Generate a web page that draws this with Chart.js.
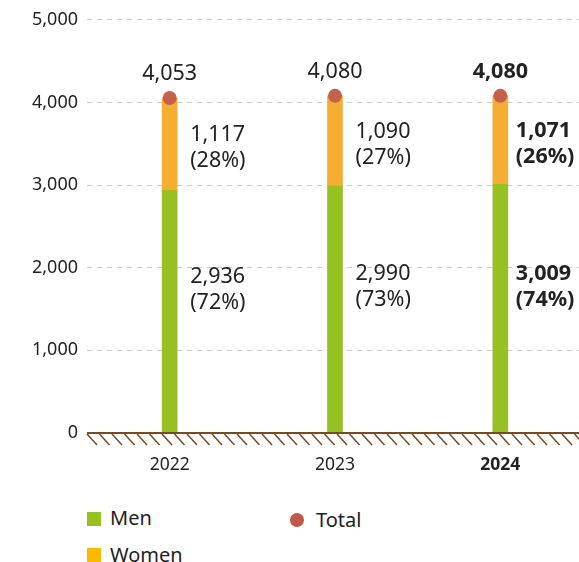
<!DOCTYPE html>
<html lang="en">
<head>
<meta charset="UTF-8">
<title>Men and Women</title>
<style>
body { margin: 0; overflow: hidden; font-family: "Noto Sans", sans-serif; background: #fff; }
#wrap { position: absolute; left: 0; top: 0; width: 590px; height: 490px; }
.leg { position: absolute; font-size: 20px; color: #222; line-height: 1; }
.sq { position: absolute; width: 14px; height: 14px; }
.dot { position: absolute; width: 14px; height: 14px; border-radius: 50%; }
</style>
</head>
<body>
<div id="wrap"><canvas id="chart"></canvas></div>
<div class="sq" style="left:87px;top:512px;background:#97c11f"></div>
<div class="leg" style="left:110px;top:508px">Men</div>
<div class="dot" style="left:290px;top:513px;background:#c0594a"></div>
<div class="leg" style="left:316px;top:510px">Total</div>
<div class="sq" style="left:87px;top:548px;background:#fbb900"></div>
<div class="leg" style="left:110px;top:545px">Women</div>
<script src="https://cdn.jsdelivr.net/npm/chart.js@4.4.1/dist/chart.umd.min.js"></script>
<script>
const years = ['2022', '2023', '2024'];
const men = [2936, 2990, 3009];
const women = [1117, 1090, 1071];
const total = [4053, 4080, 4080];
const yTicks = [0, 1000, 2000, 3000, 4000, 5000];

const FONT = '"Noto Sans", sans-serif';
const fmt = v => v.toLocaleString('en-US');
const pct = (v, t) => '(' + Math.round(v / t * 100) + '%)';

// brown ground line with hatching under zero
const groundPlugin = {
  id: 'ground',
  afterDraw(chart) {
    const ctx = chart.ctx, a = chart.chartArea;
    const y0 = chart.scales.y.getPixelForValue(0);
    ctx.save();
    ctx.strokeStyle = '#7a4b22';
    ctx.lineWidth = 2;
    ctx.beginPath();
    ctx.moveTo(a.left, y0);
    ctx.lineTo(a.right, y0);
    ctx.stroke();
    ctx.lineWidth = 1.5;
    ctx.beginPath();
    for (let x = a.left; x < a.right; x += 12.5) {
      ctx.moveTo(x, y0 + 1);
      ctx.lineTo(x + 10, y0 + 12);
    }
    ctx.stroke();
    ctx.restore();
  }
};

const labelPlugin = {
  id: 'labels',
  afterDatasetsDraw(chart) {
    const ctx = chart.ctx;
    const mMeta = chart.getDatasetMeta(0);
    const wMeta = chart.getDatasetMeta(1);
    const tMeta = chart.getDatasetMeta(2);
    ctx.save();
    ctx.fillStyle = '#222';
    years.forEach((yr, i) => {
      const bold = i === years.length - 1;
      ctx.font = (bold ? 'bold ' : '') + '21.5px ' + FONT;
      // total above point
      const p = tMeta.data[i];
      ctx.textAlign = 'center';
      ctx.textBaseline = 'middle';
      ctx.fillText(fmt(total[i]), p.x, p.y - 24);
      // women and men labels to the right of the bar
      ctx.textAlign = 'left';
      const wb = wMeta.data[i], mb = mMeta.data[i];
      const lx = wb.x + wb.width / 2 + (bold ? 8 : 13);
      const wy = (wb.y + wb.base) / 2 + 4;
      ctx.fillText(fmt(women[i]), lx, wy - 13);
      ctx.fillText(pct(women[i], total[i]), lx, wy + 13);
      const my = (mb.y + mb.base) / 2 - 22;
      ctx.fillText(fmt(men[i]), lx, my - 13);
      ctx.fillText(pct(men[i], total[i]), lx, my + 13);
    });
    ctx.restore();
  }
};

new Chart(document.getElementById('chart'), {
  data: {
    labels: years,
    datasets: [
      { type: 'bar', label: 'Men', data: men, backgroundColor: '#97c024', barThickness: 15, order: 2 },
      { type: 'bar', label: 'Women', data: women, backgroundColor: '#f5ae32', barThickness: 15, order: 2 },
      { type: 'line', label: 'Total', data: total, stack: 'total', showLine: false,
        pointRadius: 7, pointHoverRadius: 7, pointBackgroundColor: '#c5604a', pointBorderWidth: 0, order: 1 }
    ]
  },
  options: {
    responsive: true,
    maintainAspectRatio: false,
    animation: false,
    layout: { padding: { top: 19, right: 5, left: 0, bottom: 0 } },
    plugins: { legend: { display: false }, tooltip: { enabled: false } },
    scales: {
      x: {
        stacked: true,
        grid: { display: false, drawTicks: false },
        border: { display: false },
        ticks: {
          padding: 22,
          color: '#222',
          font: ctx => ({ family: FONT, size: 17.5, weight: ctx.index === years.length - 1 ? 'bold' : 'normal' })
        },
        afterFit(s) { s.height = 57; }
      },
      y: {
        stacked: true,
        min: 0,
        max: 5000,
        afterBuildTicks(s) { s.ticks = yTicks.map(v => ({ value: v })); },
        grid: { color: '#cccccc', drawTicks: false },
        border: { display: false, dash: [5, 5] },
        ticks: { padding: 9, color: '#222', font: { family: FONT, size: 18 }, callback: v => fmt(v) },
        afterFit(s) { s.width = 87; }
      }
    }
  },
  plugins: [groundPlugin, labelPlugin]
});
</script>
</body>
</html>
